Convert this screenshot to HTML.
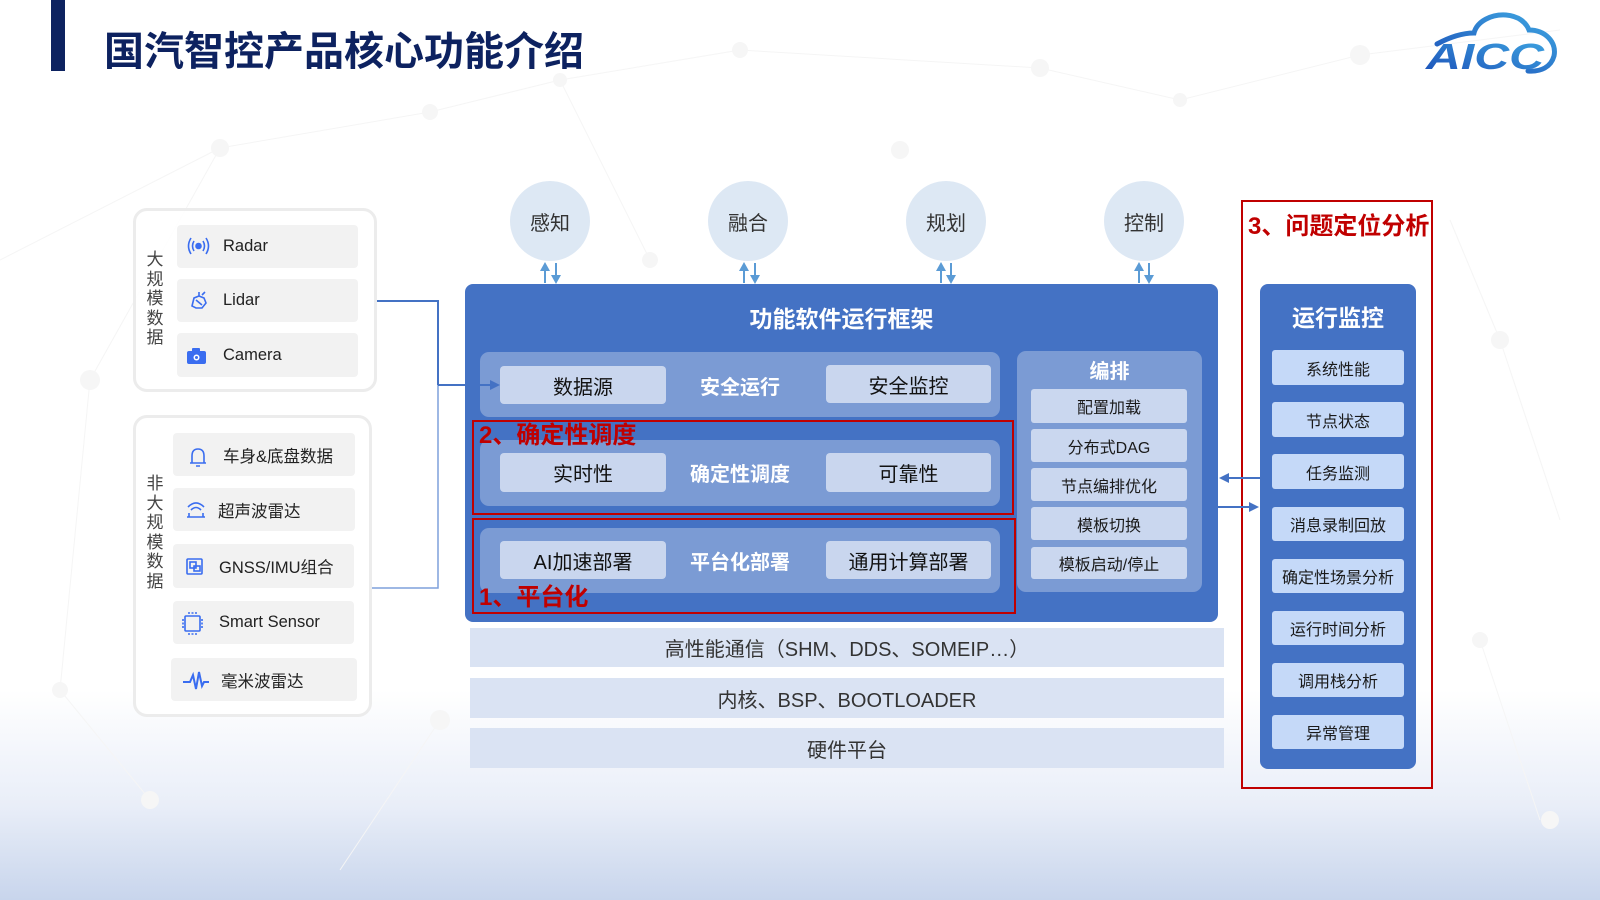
<!DOCTYPE html>
<html>
<head>
<meta charset="utf-8">
<style>
  html,body{margin:0;padding:0;}
  body{width:1600px;height:900px;overflow:hidden;position:relative;background:#ffffff;
       font-family:"Liberation Sans","Noto Sans CJK SC",sans-serif;}
  .a{position:absolute;box-sizing:border-box;}
  .c{display:flex;align-items:center;justify-content:center;}
  .grp{border:3px solid #ececec;border-radius:14px;background:rgba(255,255,255,0.85);}
  .it{background:#f2f2f2;border-radius:4px;font-size:16.5px;color:#222;display:flex;align-items:center;}
  .vt{font-size:17px;line-height:19.6px;color:#444;width:20px;text-align:center;}
  .main{background:#4472c4;border-radius:8px;}
  .row{background:#7b9bd4;border-radius:9px;}
  .btn{background:#c9d6ee;border-radius:4px;font-size:20px;color:#111;}
  .mid{color:#fff;font-weight:bold;font-size:20px;}
  .red{border:2px solid #c00000;}
  .rt{color:#c00000;font-weight:bold;font-size:24px;white-space:nowrap;}
  .bp{background:#cad7ef;border-radius:3px;font-size:16px;color:#1a1a1a;}
  .mi{background:#c5d9f8;border-radius:3px;font-size:16px;color:#1a1a1a;}
  .bar{background:#dae3f3;font-size:20px;color:#333;}
  .cir{background:#dde8f4;border-radius:50%;font-size:20px;color:#333;}
</style>
</head>
<body>

<!-- background: gradient + faint network -->
<div class="a" style="left:0;top:690px;width:1600px;height:210px;background:linear-gradient(to bottom,rgba(255,255,255,0) 0%,#e9eef8 55%,#c8d5ec 100%);"></div>
<svg class="a" style="left:0;top:0" width="1600" height="900">
  <g stroke="#f5f5f5" stroke-width="1" fill="none">
    <line x1="220" y1="148" x2="430" y2="112"/>
    <line x1="430" y1="112" x2="560" y2="80"/>
    <line x1="560" y1="80" x2="740" y2="50"/>
    <line x1="740" y1="50" x2="1040" y2="68"/>
    <line x1="1040" y1="68" x2="1180" y2="100"/>
    <line x1="1180" y1="100" x2="1360" y2="55"/>
    <line x1="1360" y1="55" x2="1560" y2="30"/>
    <line x1="220" y1="148" x2="90" y2="380"/>
    <line x1="90" y1="380" x2="60" y2="690"/>
    <line x1="60" y1="690" x2="150" y2="800"/>
    <line x1="440" y1="720" x2="340" y2="870"/>
    <line x1="1500" y1="340" x2="1560" y2="520"/>
    <line x1="1500" y1="340" x2="1450" y2="220"/>
    <line x1="1480" y1="640" x2="1540" y2="820"/>
    <line x1="0" y1="260" x2="220" y2="148"/>
    <line x1="560" y1="80" x2="650" y2="260"/>
  </g>
  <g fill="#f6f6f6">
    <circle cx="220" cy="148" r="9"/>
    <circle cx="430" cy="112" r="8"/>
    <circle cx="560" cy="80" r="7"/>
    <circle cx="740" cy="50" r="8"/>
    <circle cx="1040" cy="68" r="9"/>
    <circle cx="1180" cy="100" r="7"/>
    <circle cx="1360" cy="55" r="10"/>
    <circle cx="90" cy="380" r="10"/>
    <circle cx="60" cy="690" r="8"/>
    <circle cx="150" cy="800" r="9"/>
    <circle cx="440" cy="720" r="10"/>
    <circle cx="1500" cy="340" r="9"/>
    <circle cx="1480" cy="640" r="8"/>
    <circle cx="1550" cy="820" r="9"/>
    <circle cx="650" cy="260" r="8"/>
    <circle cx="900" cy="150" r="9"/>
  </g>
</svg>

<!-- title -->
<div class="a" style="left:51px;top:0;width:14px;height:71px;background:#0d2260;"></div>
<div class="a" style="left:104px;top:28px;font-size:40px;font-weight:bold;color:#0d2260;line-height:48px;white-space:nowrap;font-family:'Liberation Sans','Noto Sans CJK SC',sans-serif;">国汽智控产品核心功能介绍</div>

<!-- logo -->
<svg class="a" style="left:0;top:0" width="1600" height="100">
  <defs>
    <linearGradient id="lg" x1="0" y1="1" x2="1" y2="0">
      <stop offset="0" stop-color="#1b4fb8"/>
      <stop offset="1" stop-color="#3fa7e2"/>
    </linearGradient>
  </defs>
  <path d="M1437,44 C1450,37 1462,33 1474,33 C1477,21 1492,14 1506,15 C1518,16 1526,22 1529,30 C1545,30 1557,42 1554,56 C1551,67 1541,72 1528,71" stroke="url(#lg)" stroke-width="5" fill="none" stroke-linecap="round"/>
  <text x="1426" y="69" font-size="36" font-weight="bold" font-style="italic" fill="url(#lg)" textLength="118" lengthAdjust="spacingAndGlyphs" font-family="Liberation Sans, sans-serif">AICC</text>
</svg>

<!-- left groups -->
<div class="a grp" style="left:133px;top:208px;width:244px;height:184px;"></div>
<div class="a vt" style="left:145px;top:250px;">大<br>规<br>模<br>数<br>据</div>
<div class="a it" style="left:177px;top:225px;width:181px;height:43px;padding-left:46px;">Radar</div>
<div class="a it" style="left:177px;top:279px;width:181px;height:43px;padding-left:46px;">Lidar</div>
<div class="a it" style="left:177px;top:333px;width:181px;height:44px;padding-left:46px;">Camera</div>

<div class="a grp" style="left:133px;top:415px;width:239px;height:302px;"></div>
<div class="a vt" style="left:145px;top:474px;">非<br>大<br>规<br>模<br>数<br>据</div>
<div class="a it" style="left:173px;top:433px;width:182px;height:43px;padding-left:50px;">车身&amp;底盘数据</div>
<div class="a it" style="left:173px;top:488px;width:182px;height:43px;padding-left:45px;">超声波雷达</div>
<div class="a it" style="left:173px;top:544px;width:181px;height:44px;padding-left:46px;">GNSS/IMU组合</div>
<div class="a it" style="left:173px;top:601px;width:181px;height:43px;padding-left:46px;">Smart Sensor</div>
<div class="a it" style="left:171px;top:658px;width:186px;height:43px;padding-left:50px;">毫米波雷达</div>

<!-- left icons -->
<svg class="a" style="left:0;top:0" width="400" height="720">
  <g stroke="#3a6df0" stroke-width="1.6" fill="none">
    <!-- radar -->
    <circle cx="198.5" cy="246" r="2.5" fill="#3a6df0"/>
    <path d="M194,241 Q191,246 194,251 M203,241 Q206,246 203,251"/>
    <path d="M191,238 Q186,246 191,254 M206,238 Q211,246 206,254"/>
    <!-- lidar -->
    <path d="M192,306 L194,298 L199,296 L204,298 L206,303 L202,308 L196,308 Z"/>
    <path d="M196,300 L202,305 M199,296 L199,292 M202,295 L205,292"/>
    <!-- bell -->
    <path d="M192,463 L192,456 Q192,449 198,449 Q204,449 204,456 L204,463 Z M190,463 L206,463 M196,466 L200,466"/>
    <!-- ultrasonic -->
    <path d="M188,507 Q196,499 204,507 M191,510 Q196,505 201,510 M187,517 L205,517 M189,513 L189,517 M203,513 L203,517"/>
    <!-- gnss -->
    <rect x="187" y="559" width="15" height="15" rx="1"/>
    <rect x="190" y="562" width="6" height="6"/>
    <rect x="194" y="566" width="6" height="5"/>
    <!-- smart sensor -->
    <rect x="185" y="616" width="15" height="15" rx="1"/>
    <path d="M183,619 L183,628 M202,619 L202,628 M188,613 L197,613 M188,634 L197,634" stroke-dasharray="2,1.5"/>
    <!-- mmwave -->
    <path d="M183,682 L190,682 L193,675 L196,689 L199,672 L202,686 L204,682 L209,682" stroke-width="2"/>
  </g>
  <!-- camera -->
  <rect x="187" y="351" width="19" height="13" rx="2" fill="#3a6df0"/>
  <rect x="192" y="348" width="8" height="4" rx="1" fill="#3a6df0"/>
  <circle cx="196.5" cy="357.5" r="3" fill="#fff"/>
  <circle cx="196.5" cy="357.5" r="1.5" fill="#3a6df0"/>
</svg>

<!-- top circles -->
<div class="a cir c" style="left:510px;top:181px;width:80px;height:80px;">感知</div>
<div class="a cir c" style="left:708px;top:181px;width:80px;height:80px;">融合</div>
<div class="a cir c" style="left:906px;top:181px;width:80px;height:80px;">规划</div>
<div class="a cir c" style="left:1104px;top:181px;width:80px;height:80px;">控制</div>

<!-- main framework -->
<div class="a main" style="left:465px;top:284px;width:753px;height:338px;"></div>
<div class="a c" style="left:465px;top:300px;width:753px;height:34px;color:#fff;font-weight:bold;font-size:23px;">功能软件运行框架</div>

<div class="a row" style="left:480px;top:352px;width:520px;height:65px;"></div>
<div class="a btn c" style="left:500px;top:366px;width:166px;height:38px;">数据源</div>
<div class="a mid c" style="left:660px;top:366px;width:160px;height:38px;">安全运行</div>
<div class="a btn c" style="left:826px;top:365px;width:165px;height:38px;">安全监控</div>

<div class="a row" style="left:480px;top:440px;width:520px;height:66px;"></div>
<div class="a btn c" style="left:500px;top:453px;width:166px;height:39px;">实时性</div>
<div class="a mid c" style="left:660px;top:453px;width:160px;height:39px;">确定性调度</div>
<div class="a btn c" style="left:826px;top:453px;width:165px;height:39px;">可靠性</div>

<div class="a row" style="left:480px;top:528px;width:520px;height:65px;"></div>
<div class="a btn c" style="left:500px;top:541px;width:166px;height:38px;">AI加速部署</div>
<div class="a mid c" style="left:660px;top:541px;width:160px;height:38px;">平台化部署</div>
<div class="a btn c" style="left:826px;top:541px;width:165px;height:38px;">通用计算部署</div>

<!-- 编排 -->
<div class="a row" style="left:1017px;top:351px;width:185px;height:241px;"></div>
<div class="a c" style="left:1017px;top:356px;width:185px;height:26px;color:#fff;font-weight:bold;font-size:20px;">编排</div>
<div class="a bp c" style="left:1031px;top:389px;width:156px;height:34px;">配置加载</div>
<div class="a bp c" style="left:1031px;top:429px;width:156px;height:33px;">分布式DAG</div>
<div class="a bp c" style="left:1031px;top:468px;width:156px;height:33px;">节点编排优化</div>
<div class="a bp c" style="left:1031px;top:507px;width:156px;height:33px;">模板切换</div>
<div class="a bp c" style="left:1031px;top:547px;width:156px;height:32px;">模板启动/停止</div>

<!-- red highlight boxes -->
<div class="a red" style="left:472px;top:420px;width:542px;height:95px;"></div>
<div class="a rt" style="left:479px;top:421px;line-height:30px;">2、确定性调度</div>
<div class="a red" style="left:472px;top:518px;width:544px;height:96px;"></div>
<div class="a rt" style="left:479px;top:583px;line-height:30px;">1、平台化</div>

<!-- bottom bars -->
<div class="a bar c" style="left:470px;top:628px;width:754px;height:39px;">高性能通信（SHM、DDS、SOMEIP…）</div>
<div class="a bar c" style="left:470px;top:678px;width:754px;height:40px;">内核、BSP、BOOTLOADER</div>
<div class="a bar c" style="left:470px;top:728px;width:754px;height:40px;">硬件平台</div>

<!-- right monitor -->
<div class="a red" style="left:1241px;top:200px;width:192px;height:589px;"></div>
<div class="a rt" style="left:1248px;top:212px;line-height:30px;">3、问题定位分析</div>
<div class="a main" style="left:1260px;top:284px;width:156px;height:485px;"></div>
<div class="a c" style="left:1260px;top:301px;width:156px;height:30px;color:#fff;font-weight:bold;font-size:23px;">运行监控</div>
<div class="a mi c" style="left:1272px;top:350px;width:132px;height:35px;">系统性能</div>
<div class="a mi c" style="left:1272px;top:402px;width:132px;height:35px;">节点状态</div>
<div class="a mi c" style="left:1272px;top:454px;width:132px;height:35px;">任务监测</div>
<div class="a mi c" style="left:1272px;top:507px;width:132px;height:34px;">消息录制回放</div>
<div class="a mi c" style="left:1272px;top:559px;width:132px;height:34px;">确定性场景分析</div>
<div class="a mi c" style="left:1272px;top:611px;width:132px;height:34px;">运行时间分析</div>
<div class="a mi c" style="left:1272px;top:663px;width:132px;height:34px;">调用栈分析</div>
<div class="a mi c" style="left:1272px;top:715px;width:132px;height:34px;">异常管理</div>

<!-- connectors & arrows overlay -->
<svg class="a" style="left:0;top:0;pointer-events:none" width="1600" height="900">
  <!-- left connector -->
  <polyline points="377,301 438,301 438,385" stroke="#4472c4" stroke-width="2" fill="none"/>
  <polyline points="372,588 438,588 438,385" stroke="#7fa0dc" stroke-width="1.5" fill="none"/>
  <line x1="438" y1="385" x2="492" y2="385" stroke="#4472c4" stroke-width="2"/>
  <polygon points="500,385 490,380 490,390" fill="#4472c4"/>

  <!-- vertical arrows under circles -->
  <g fill="#5b9bd5" stroke="#5b9bd5" stroke-width="2">
    <line x1="545" y1="270" x2="545" y2="283"/><polygon points="545,262 540,271 550,271" stroke="none"/>
    <line x1="556" y1="263" x2="556" y2="276"/><polygon points="556,284 551,275 561,275" stroke="none"/>

    <line x1="744" y1="270" x2="744" y2="283"/><polygon points="744,262 739,271 749,271" stroke="none"/>
    <line x1="755" y1="263" x2="755" y2="276"/><polygon points="755,284 750,275 760,275" stroke="none"/>

    <line x1="941" y1="270" x2="941" y2="283"/><polygon points="941,262 936,271 946,271" stroke="none"/>
    <line x1="951" y1="263" x2="951" y2="276"/><polygon points="951,284 946,275 956,275" stroke="none"/>

    <line x1="1139" y1="270" x2="1139" y2="283"/><polygon points="1139,262 1134,271 1144,271" stroke="none"/>
    <line x1="1149" y1="263" x2="1149" y2="276"/><polygon points="1149,284 1144,275 1154,275" stroke="none"/>
  </g>

  <!-- arrows between framework and monitor -->
  <line x1="1228" y1="478" x2="1260" y2="478" stroke="#4472c4" stroke-width="2"/>
  <polygon points="1219,478 1229,473 1229,483" fill="#4472c4"/>
  <line x1="1218" y1="507" x2="1250" y2="507" stroke="#4472c4" stroke-width="2"/>
  <polygon points="1259,507 1249,502 1249,512" fill="#4472c4"/>
</svg>

</body>
</html>
